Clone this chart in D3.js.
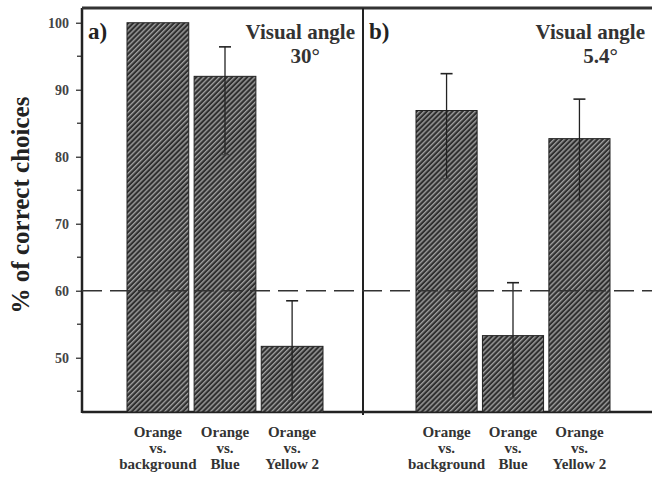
<!DOCTYPE html>
<html>
<head>
<meta charset="utf-8">
<script src="https://cdn.jsdelivr.net/npm/d3@7"></script>
<style>
  body { margin: 0; background: #fff; }
  svg { display: block; font-family: "Liberation Serif", "DejaVu Serif", serif; font-weight: bold; }
</style>
</head>
<body>
<svg id="chart" width="652" height="477"></svg>
<script>
const categories = ["Orange vs. background", "Orange vs. Blue", "Orange vs. Yellow 2"];
const catLines = [["Orange", "vs.", "background"], ["Orange", "vs.", "Blue"], ["Orange", "vs.", "Yellow 2"]];
const valuesA = [100, 92, 51.7];
const errLowA = [null, 80.3, 43.6];
const errHighA = [null, 96.4, 58.5];
const valuesB = [86.9, 53.3, 82.7];
const errLowB = [76.7, 44.0, 73.4];
const errHighB = [92.4, 61.2, 88.6];
const chanceLevel = 60;
const yTicks = [50, 60, 70, 80, 90, 100];
const yMinor = [45, 55, 65, 75, 85, 95];

const svg = d3.select("#chart");
const plotLeft = 82, plotTop = 8, plotBottom = 412, divider = 363;

const defs = svg.append("defs");
const pat = defs.append("pattern")
  .attr("id", "hatch")
  .attr("patternUnits", "userSpaceOnUse")
  .attr("width", 3.6).attr("height", 3.6)
  .attr("patternTransform", "rotate(45)");
pat.append("rect").attr("width", 3.6).attr("height", 3.6).attr("fill", "#303030");
pat.append("rect").attr("x", 0).attr("width", 1.4).attr("height", 3.6).attr("fill", "#a0a0a0");

const y = d3.scaleLinear().domain([41.9, 102.2]).range([plotBottom, plotTop]);
const xA = d3.scaleBand().domain(categories).range([127, 323]).paddingInner(0.08);
const xB = d3.scaleBand().domain(categories).range([416, 610]).paddingInner(0.08);

// y axis
const yAxis = svg.append("g")
  .attr("transform", `translate(${plotLeft},0)`)
  .call(d3.axisLeft(y).tickValues(yTicks).tickSize(6).tickFormat(d3.format("d")));
yAxis.select(".domain").remove();
yAxis.selectAll(".tick line").attr("stroke", "#333").attr("stroke-width", 1.3);
yAxis.selectAll(".tick text")
  .attr("font-family", "Liberation Serif, serif")
  .attr("font-weight", "bold")
  .attr("font-size", 14)
  .attr("fill", "#444")
  .attr("x", -13);
svg.append("g").selectAll("line").data(yMinor).join("line")
  .attr("x1", plotLeft - 5).attr("x2", plotLeft)
  .attr("y1", d => y(d)).attr("y2", d => y(d))
  .attr("stroke", "#333").attr("stroke-width", 1.3);

// frame
svg.append("line").attr("x1", plotLeft).attr("x2", plotLeft).attr("y1", plotTop).attr("y2", plotBottom + 1)
  .attr("stroke", "#222").attr("stroke-width", 2.5);
svg.append("line").attr("x1", plotLeft).attr("x2", 652).attr("y1", plotTop).attr("y2", plotTop)
  .attr("stroke", "#333").attr("stroke-width", 3);
svg.append("line").attr("x1", plotLeft).attr("x2", 652).attr("y1", plotBottom).attr("y2", plotBottom)
  .attr("stroke", "#222").attr("stroke-width", 2.5);
svg.append("line").attr("x1", divider).attr("x2", divider).attr("y1", plotTop).attr("y2", plotBottom + 3)
  .attr("stroke", "#222").attr("stroke-width", 2);

function panel(x, vals, lo, hi) {
  const g = svg.append("g");
  g.selectAll("rect").data(categories).join("rect")
    .attr("x", d => x(d))
    .attr("width", x.bandwidth())
    .attr("y", (d, i) => y(vals[i]))
    .attr("height", (d, i) => plotBottom - y(vals[i]))
    .attr("fill", "url(#hatch)")
    .attr("stroke", "#222").attr("stroke-width", 1);
  const err = categories.map((d, i) => ({ c: d, lo: lo[i], hi: hi[i] })).filter(d => d.lo != null);
  g.selectAll(".err").data(err).join("line")
    .attr("x1", d => x(d.c) + x.bandwidth() / 2).attr("x2", d => x(d.c) + x.bandwidth() / 2)
    .attr("y1", d => y(d.lo)).attr("y2", d => y(d.hi))
    .attr("stroke", "#222").attr("stroke-width", 1.3);
  g.selectAll(".capTop").data(err).join("line")
    .attr("x1", d => x(d.c) + x.bandwidth() / 2 - 6).attr("x2", d => x(d.c) + x.bandwidth() / 2 + 6)
    .attr("y1", d => y(d.hi)).attr("y2", d => y(d.hi))
    .attr("stroke", "#222").attr("stroke-width", 1.6);
  g.selectAll(".capBot").data(err).join("line")
    .attr("x1", d => x(d.c) + x.bandwidth() / 2 - 4).attr("x2", d => x(d.c) + x.bandwidth() / 2 + 4)
    .attr("y1", d => y(d.lo)).attr("y2", d => y(d.lo))
    .attr("stroke", "#444").attr("stroke-width", 1);
  // one text per line so the lines stay apart
  categories.forEach((d, i) => {
    catLines[i].forEach((s, k) => {
      g.append("text")
        .attr("text-anchor", "middle")
        .attr("font-size", 15)
        .attr("fill", "#333")
        .attr("x", x(d) + x.bandwidth() / 2)
        .attr("y", 437 + k * 16)
        .text(s);
    });
  });
}

panel(xA, valuesA, errLowA, errHighA);
panel(xB, valuesB, errLowB, errHighB);

// chance line
svg.append("line")
  .attr("x1", plotLeft).attr("x2", 652)
  .attr("y1", y(chanceLevel)).attr("y2", y(chanceLevel))
  .attr("stroke", "#333").attr("stroke-width", 1.5)
  .attr("stroke-dasharray", "20,8");

// panel labels
svg.append("text").attr("x", 88).attr("y", 39).attr("font-size", 23).attr("fill", "#222").text("a)");
svg.append("text").attr("x", 369).attr("y", 39).attr("font-size", 23).attr("fill", "#222").text("b)");
svg.append("text").attr("x", 355).attr("y", 39).attr("text-anchor", "end").attr("font-size", 21).attr("fill", "#333").text("Visual angle");
svg.append("text").attr("x", 320).attr("y", 63).attr("text-anchor", "end").attr("font-size", 21).attr("fill", "#333").text("30°");
svg.append("text").attr("x", 645).attr("y", 39).attr("text-anchor", "end").attr("font-size", 21).attr("fill", "#333").text("Visual angle");
svg.append("text").attr("x", 618).attr("y", 63).attr("text-anchor", "end").attr("font-size", 21).attr("fill", "#333").text("5.4°");

// y title
svg.append("text")
  .attr("transform", "translate(29,205) rotate(-90)")
  .attr("text-anchor", "middle")
  .attr("font-size", 25)
  .attr("fill", "#222")
  .text("% of correct choices");
</script>
</body>
</html>
